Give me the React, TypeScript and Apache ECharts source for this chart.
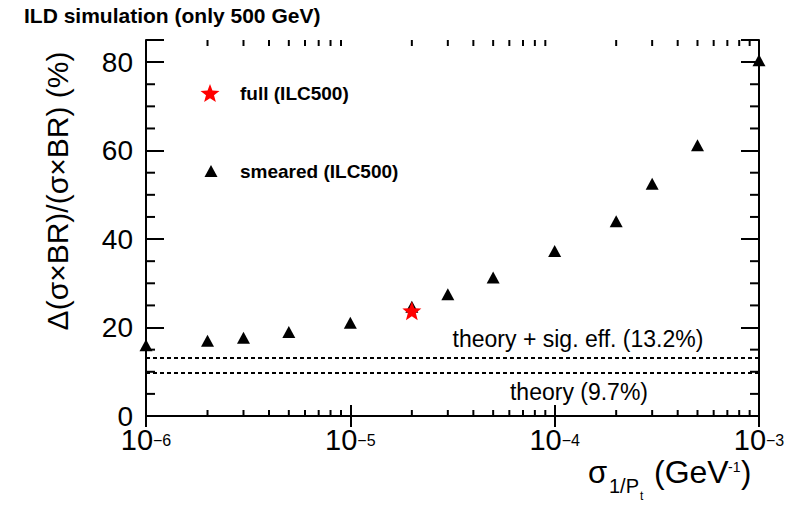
import React, { useEffect, useRef } from 'react';
import * as echarts from 'echarts';

const smearedX = [1e-6, 2e-6, 3e-6, 5e-6, 1e-5, 2e-5, 3e-5, 5e-5, 1e-4, 2e-4, 3e-4, 5e-4, 1e-3];
const smearedY = [16.0, 17.0, 17.7, 19.0, 21.1, 24.7, 27.5, 31.3, 37.3, 44.0, 52.5, 61.2, 80.4];
const fullX = [2e-5];
const fullY = [23.8];
const theoryLevels = [13.2, 9.7];
const theoryLabels = ['theory + sig. eff. (13.2%)', 'theory (9.7%)'];
const xMinorTicks = [
  2e-6, 3e-6, 4e-6, 5e-6, 6e-6, 7e-6, 8e-6, 9e-6,
  2e-5, 3e-5, 4e-5, 5e-5, 6e-5, 7e-5, 8e-5, 9e-5,
  2e-4, 3e-4, 4e-4, 5e-4, 6e-4, 7e-4, 8e-4, 9e-4,
];
const yMinorTicks = [5, 10, 15, 25, 30, 35, 45, 50, 55, 65, 70, 75];
const xMin = 1e-6;
const xMax = 1e-3;
const yMin = 0;
const yMax = 85;
const yMajor = 20;

const FONT = 'Liberation Sans, Arial, Helvetica, sans-serif';

function starPath(): string {
  const pts: string[] = [];
  for (let i = 0; i < 10; i++) {
    const a = (-90 + 36 * i) * Math.PI / 180;
    const r = i % 2 === 0 ? 10 : 4.2;
    pts.push(`${(r * Math.cos(a)).toFixed(3)} ${(r * Math.sin(a)).toFixed(3)}`);
  }
  return 'M' + pts.join(' L') + ' Z';
}
function starPoints(cx: number, cy: number, R: number): number[][] {
  const pts: number[][] = [];
  for (let i = 0; i < 10; i++) {
    const a = (-90 + 36 * i) * Math.PI / 180;
    const r = i % 2 === 0 ? R : R * 0.42;
    pts.push([cx + r * Math.cos(a), cy + r * Math.sin(a)]);
  }
  return pts;
}

export default function App() {
  const ref = useRef<HTMLDivElement>(null);
  useEffect(() => {
    document.body.style.margin = '0';
    const chart = echarts.init(ref.current!, null, { renderer: 'svg' });
    const axisLine = { show: true, lineStyle: { color: '#000', width: 2 } };
    const xLabelFmt = (v: number) => {
      const e = Math.round(Math.log10(v));
      return `{b|10}{s|${e < 0 ? '\u2212' + (-e) : e}}`;
    };
    const tickStyle = { color: '#000', width: 2 };
    const txt = (x: number, y: number, text: string, size: number) => ({
      type: 'text', x, y, style: { text, font: `${size}px ${FONT}`, fill: '#000', align: 'left', verticalAlign: 'middle' },
    });
    chart.setOption({
      animation: false,
      backgroundColor: '#fff',
      grid: { left: 146, top: 40, width: 613, height: 376, containLabel: false },
      xAxis: [
        {
          type: 'log', logBase: 10, min: xMin, max: xMax, position: 'bottom',
          axisLine, splitLine: { show: false },
          axisTick: { show: true, inside: true, length: 11, lineStyle: tickStyle },
          axisLabel: {
            show: true, margin: 16, formatter: xLabelFmt, color: '#000',
            rich: {
              b: { fontSize: 29, fontFamily: FONT, color: '#000', lineHeight: 22, verticalAlign: 'bottom' },
              s: { fontSize: 16, fontFamily: FONT, color: '#000', lineHeight: 11, verticalAlign: 'top' },
            },
          },
        },
        {
          type: 'log', logBase: 10, min: xMin, max: xMax, position: 'top',
          axisLine, splitLine: { show: false },
          axisTick: { show: true, inside: true, length: 11, lineStyle: tickStyle },
          axisLabel: { show: false },
        },
      ],
      yAxis: [
        {
          type: 'value', min: yMin, max: yMax, interval: yMajor, position: 'left',
          axisLine, splitLine: { show: false },
          axisTick: { show: true, inside: true, length: 18, lineStyle: tickStyle },
          axisLabel: {
            show: true, margin: 13, fontSize: 28, lineHeight: 20, fontFamily: FONT, color: '#000',
            formatter: (v: number) => (v % yMajor === 0 ? String(v) : ''),
          },
        },
        {
          type: 'value', min: yMin, max: yMax, interval: yMajor, position: 'right',
          axisLine, splitLine: { show: false },
          axisTick: { show: true, inside: true, length: 18, lineStyle: tickStyle },
          axisLabel: { show: false },
        },
      ],
      series: [
        {
          type: 'custom', xAxisIndex: 0, yAxisIndex: 0, silent: true,
          data: xMinorTicks.map((v) => [v, yMin]),
          renderItem: (_p: any, api: any) => {
            const v = api.value(0);
            const b = api.coord([v, yMin]);
            const t = api.coord([v, yMax]);
            return {
              type: 'group', children: [
                { type: 'line', shape: { x1: b[0], y1: b[1], x2: b[0], y2: b[1] - 6 }, style: { stroke: '#000', lineWidth: 2 } },
                { type: 'line', shape: { x1: t[0], y1: t[1], x2: t[0], y2: t[1] + 6 }, style: { stroke: '#000', lineWidth: 2 } },
              ],
            };
          },
        },
        {
          type: 'custom', xAxisIndex: 0, yAxisIndex: 0, silent: true,
          data: yMinorTicks.map((v) => [xMin, v]),
          renderItem: (_p: any, api: any) => {
            const v = api.value(1);
            const l = api.coord([xMin, v]);
            const r = api.coord([xMax, v]);
            return {
              type: 'group', children: [
                { type: 'line', shape: { x1: l[0], y1: l[1], x2: l[0] + 9, y2: l[1] }, style: { stroke: '#000', lineWidth: 2 } },
                { type: 'line', shape: { x1: r[0], y1: r[1], x2: r[0] - 9, y2: r[1] }, style: { stroke: '#000', lineWidth: 2 } },
              ],
            };
          },
        },
        {
          name: 'smeared (ILC500)', type: 'scatter', symbol: 'triangle', symbolSize: [13, 12],
          itemStyle: { color: '#000', opacity: 1 },
          data: smearedX.map((x, i) => [x, smearedY[i]]),
          markLine: {
            silent: true, symbol: 'none', label: { show: false },
            lineStyle: { color: '#000', width: 2, type: [4, 3], opacity: 1 },
            data: theoryLevels.map((v) => ({ yAxis: v })),
          },
          z: 3,
        },
        {
          name: 'full (ILC500)', type: 'scatter', symbol: 'path://' + starPath(), symbolSize: [19, 19],
          itemStyle: { color: '#ff0000', opacity: 1 },
          data: fullX.map((x, i) => [x, fullY[i]]),
          z: 4,
        },
      ],
      graphic: [
        { type: 'text', left: 24, top: 5, style: { text: 'ILD simulation (only 500 GeV)', font: `bold 21px ${FONT}`, fill: '#000' } },
        {
          type: 'text', x: 57, y: 191, rotation: Math.PI / 2,
          style: { text: '\u0394(\u03c3\u00d7BR)/(\u03c3\u00d7BR) (%)', font: `30px ${FONT}`, fill: '#000', align: 'center', verticalAlign: 'middle' },
        },
        txt(588, 472, '\u03c3', 31),
        txt(609, 486, '1/P', 20),
        txt(640, 496, 't', 12),
        txt(654, 472, '(GeV', 32),
        txt(728, 467, '-1', 14),
        txt(741, 472, ')', 31),
        { type: 'text', x: 578, y: 339, style: { text: theoryLabels[0], font: `23px ${FONT}`, fill: '#000', align: 'center', verticalAlign: 'middle' } },
        { type: 'text', x: 579, y: 392, style: { text: theoryLabels[1], font: `23px ${FONT}`, fill: '#000', align: 'center', verticalAlign: 'middle' } },
        { type: 'polygon', shape: { points: starPoints(210, 94, 10) }, style: { fill: '#ff0000' } },
        { type: 'text', x: 240, y: 93, style: { text: 'full (ILC500)', font: `bold 19px ${FONT}`, fill: '#000', verticalAlign: 'middle' } },
        { type: 'polygon', shape: { points: [[211, 165], [204.5, 177], [217.5, 177]] }, style: { fill: '#000' } },
        { type: 'text', x: 240, y: 171, style: { text: 'smeared (ILC500)', font: `bold 19px ${FONT}`, fill: '#000', verticalAlign: 'middle' } },
      ],
    });
    return () => chart.dispose();
  }, []);
  return <div ref={ref} style={{ width: 802, height: 505 }} />;
}
